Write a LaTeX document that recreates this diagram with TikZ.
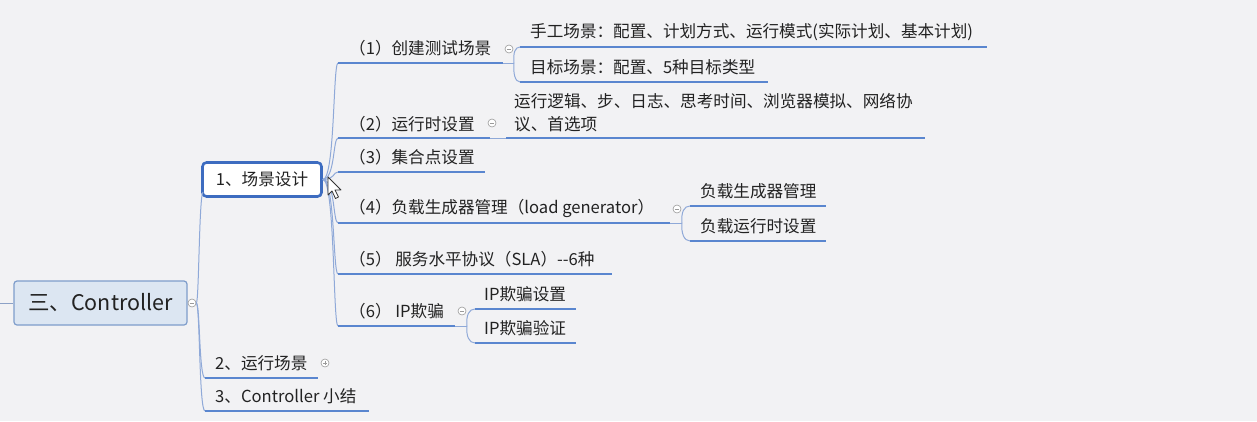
\documentclass[tikz,border=0pt]{standalone}
\usepackage{fontspec}
\setmainfont{Noto Sans CJK SC}
\definecolor{bgc}{HTML}{F2F2F4}
\definecolor{txtc}{HTML}{222222}
\definecolor{ulc}{HTML}{5A86CF}
\definecolor{conc}{HTML}{8FA9D8}
\definecolor{togc}{HTML}{9A9A9A}
\definecolor{rootb}{HTML}{7E9DCB}
\definecolor{rootf}{HTML}{DCE6F2}
\definecolor{selc}{HTML}{3D6CC0}
\begin{document}
\begin{tikzpicture}[x=1pt,y=-1pt,
  txt/.style={anchor=west, inner sep=0pt, text=txtc, font=\fontsize{16.6}{20}\selectfont},
  uline/.style={draw=ulc, line width=2.6pt},
  conn/.style={draw=conc, line width=1pt},
  tog/.style={circle, draw=togc, fill=white, line width=0.6pt, minimum size=8pt, inner sep=0pt,
    path picture={\draw[togc, line width=0.7pt] ([xshift=-2.2pt]path picture bounding box.center) -- ([xshift=2.2pt]path picture bounding box.center);}},
  togplus/.style={tog, path picture={\draw[togc, line width=0.7pt] ([xshift=-2.2pt]path picture bounding box.center) -- ([xshift=2.2pt]path picture bounding box.center) ([yshift=-2.2pt]path picture bounding box.center) -- ([yshift=2.2pt]path picture bounding box.center);}},
]
\fill[bgc] (0,0) rectangle (1257,421);
\useasboundingbox (0,0) rectangle (1257,421);

% ---------- root ----------
\coordinate (lin) at (0,303);
\node[draw=rootb, fill=rootf, rounded corners=3pt, line width=1.2pt, minimum width=173pt, minimum height=44pt,
  inner sep=0pt, font=\fontsize{21.5}{24}\selectfont, text=txtc] (root) at (100.5,303) {三、Controller};
\draw[conn, draw=conc!80!gray] (lin) -- (root.west);
\node[tog] (rt) at (192,303) {};

% ---------- level 1 ----------
\node[draw=selc, line width=2.6pt, fill=white, rounded corners=4pt, minimum width=119pt, minimum height=34pt,
  inner sep=0pt, text=txtc, font=\fontsize{16.6}{20}\selectfont] (s1) at (262,179.5) {1、场景设计};
\coordinate (s1in) at (203,192);

\node[txt] (s2) at (215,363) {2、运行场景};
\coordinate (s2s) at (205,378); \coordinate (s2e) at (318,378);
\node[togplus] (t2) at (325,363) {};

\node[txt] (s3) at (215,396) {3、Controller 小结};
\coordinate (s3s) at (205,411); \coordinate (s3e) at (369,411);

\draw[conn] (rt.east) .. controls (199,303) and (199,196) .. (s1in);
\draw[conn] (rt.east) .. controls (200,303) and (199,378) .. (s2s);
\draw[conn] (rt.east) .. controls (200,303) and (199,411) .. (s3s);
\draw[uline] (s2s) -- (s2e);
\draw[uline] (s3s) -- (s3e);

% ---------- level 2 ----------
\node[txt] (a1) at (349,48) {（1）创建测试场景};
\coordinate (a1s) at (338,63); \coordinate (a1e) at (503,63);
\node[tog] (t1) at (509,49) {};

\node[txt] (a2) at (349,124) {（2）运行时设置};
\coordinate (a2s) at (338,138); \coordinate (a2e) at (490,138);
\node[tog] (ta2) at (492,123) {};

\node[txt] (a3) at (349,157) {（3）集合点设置};
\coordinate (a3s) at (338,172); \coordinate (a3e) at (485,172);

\node[txt] (a4) at (349,208) {（4）负载生成器管理（load generator）};
\coordinate (a4s) at (338,223); \coordinate (a4e) at (670,223);
\node[tog] (ta4) at (677,209) {};

\node[txt] (a5) at (349,259) {（5） 服务水平协议（SLA）-{}-6种};
\coordinate (a5s) at (338,274); \coordinate (a5e) at (612,274);

\node[txt] (a6) at (349,311) {（6） IP欺骗};
\coordinate (a6s) at (338,326); \coordinate (a6e) at (455,326);
\node[tog] (ta6) at (462,311) {};

\coordinate (trunk) at (333,0);
\coordinate (trunk0) at (335,0);
\foreach \c in {a1s,a2s,a3s,a4s,a5s,a6s}{
  \draw[conn] (s1.east) .. controls (trunk0 |- s1.east) and (trunk |- \c) .. (\c);
}

% ---------- level 3 ----------
\node[txt] (c11) at (530,32) {手工场景：配置、计划方式、运行模式(实际计划、基本计划)};
\coordinate (c11s) at (520,47); \coordinate (c11e) at (987,47);
\node[txt] (c12) at (530,67) {目标场景：配置、5种目标类型};
\coordinate (c12s) at (520,82); \coordinate (c12e) at (768,82);
\coordinate (c1m) at (514,63);

\node[txt, align=left, font=\fontsize{16.6}{23}\selectfont] (c21) at (514,112.5) {运行逻辑、步、日志、思考时间、浏览器模拟、网络协\\议、首选项};
\coordinate (c21s) at (506,138); \coordinate (c21e) at (925,138);

\node[txt] (c41) at (700,191) {负载生成器管理};
\coordinate (c41s) at (690,206); \coordinate (c41e) at (826,206);
\node[txt] (c42) at (700,226) {负载运行时设置};
\coordinate (c42s) at (690,241); \coordinate (c42e) at (826,241);
\coordinate (c4m) at (682,223);

\node[txt] (c61) at (484,294) {IP欺骗设置};
\coordinate (c61s) at (475,309); \coordinate (c61e) at (576,309);
\node[txt] (c62) at (484,328) {IP欺骗验证};
\coordinate (c62s) at (475,343); \coordinate (c62e) at (576,343);
\coordinate (c6m) at (467,326);

% connectors to level 3
\draw[conn] (a1e) -- (c1m);
\draw[conn] (c1m) .. controls (513,53) and (515,47) .. (c11s);
\draw[conn] (c1m) .. controls (513,73) and (515,82) .. (c12s);
\draw[conn] (a2e) -- (c21s);
\draw[conn] (a4e) -- (c4m);
\draw[conn] (c4m) .. controls (681,212) and (684,206) .. (c41s);
\draw[conn] (c4m) .. controls (681,233) and (684,241) .. (c42s);
\draw[conn] (a6e) -- (c6m);
\draw[conn] (c6m) .. controls (466,315) and (469,309) .. (c61s);
\draw[conn] (c6m) .. controls (466,336) and (469,343) .. (c62s);

% underlines
\foreach \n in {a1,a2,a3,a4,a5,a6,c11,c12,c21,c41,c42,c61,c62}{
  \draw[uline] (\n s) -- (\n e);
}

% mouse cursor
\draw[fill=white, draw=black!80, line width=0.8pt, line join=round]
  (328,177) -- (328,195) -- (332,191) -- (335.5,198.5) -- (338.5,197) -- (335,190) -- (341,190) -- cycle;
\end{tikzpicture}
\end{document}
